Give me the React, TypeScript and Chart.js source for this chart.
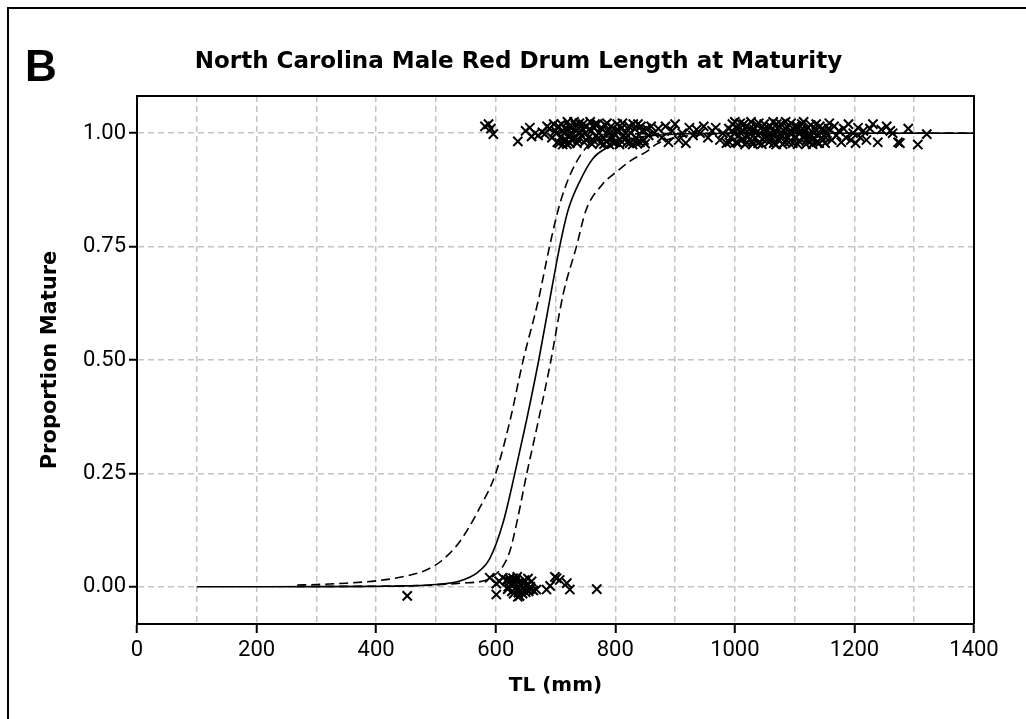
import React, { useEffect, useRef } from "react";
import { Chart, registerables } from "chart.js";

Chart.register(...registerables);

// ---- axis values ----
const xGridValues = [0, 100, 200, 300, 400, 500, 600, 700, 800, 900, 1000, 1100, 1200, 1300, 1400];
const xLabelValues = [0, 200, 400, 600, 800, 1000, 1200, 1400];
const yTickValues = [0, 0.25, 0.5, 0.75, 1.0];

// ---- fitted maturity curve and confidence band (TL mm, proportion) ----
const fitCurve: [number, number][] = [
  [100, 0], [200, 0.0001], [300, 0.0003], [400, 0.001], [450, 0.002], [500, 0.005],
  [540, 0.013], [570, 0.032], [590, 0.062], [612, 0.14], [632, 0.25], [652, 0.37],
  [672, 0.5], [690, 0.63], [707, 0.75], [721, 0.83], [741, 0.895], [763, 0.945],
  [785, 0.967], [810, 0.982], [850, 0.993], [900, 0.998], [1000, 1.0], [1400, 1.0],
];
const upperBand: [number, number][] = [
  [268, 0.004], [300, 0.005], [350, 0.008], [400, 0.013], [440, 0.021], [480, 0.035],
  [510, 0.058], [540, 0.1], [574, 0.176], [600, 0.25], [624, 0.367], [646, 0.5],
  [671, 0.63], [690, 0.75], [707, 0.843], [727, 0.916], [757, 0.976], [790, 0.992],
  [850, 0.999], [1000, 1.0], [1400, 1.0],
];
const lowerBand: [number, number][] = [
  [268, 0.001], [350, 0.001], [450, 0.002], [500, 0.004], [540, 0.008], [585, 0.015],
  [600, 0.028], [612, 0.045], [624, 0.08], [635, 0.14], [652, 0.25], [669, 0.352],
  [691, 0.49], [713, 0.646], [735, 0.75], [751, 0.83], [779, 0.888], [803, 0.916],
  [824, 0.938], [853, 0.96], [869, 0.976], [900, 0.99], [950, 0.997], [1000, 1.0], [1400, 1.0],
];

// ---- observed fish (TL mm, jittered maturity) ----
const matureFish: [number, number][] = [
  [582, 1.015], [588, 1.02], [592, 1.01], [596, 0.998], [637, 0.982], [650, 1.005], [657, 1.012],
  [660, 0.993], [666, 1.0], [671, 0.995], [678, 1.002], [682, 0.998], [686, 1.015], [690, 1.01],
  [694, 0.99], [697, 1.02],
  [700, 1.005], [703, 0.98], [705, 1.015], [708, 0.99], [710, 1.02], [712, 0.975], [714, 1.0],
  [716, 1.01], [718, 0.985], [720, 1.025], [722, 0.995], [724, 0.978], [726, 1.012], [728, 1.0],
  [730, 0.99], [733, 1.018], [735, 1.005], [738, 0.985], [740, 1.022], [743, 0.995], [745, 1.01],
  [748, 0.98], [750, 1.0], [752, 1.015], [755, 0.99], [758, 1.025], [760, 1.005], [763, 0.985],
  [765, 1.012], [768, 0.995], [770, 1.02], [773, 1.0], [775, 0.978], [778, 1.01], [780, 0.99],
  [783, 1.018], [785, 0.982], [788, 1.005], [790, 0.975], [793, 1.015], [796, 0.99], [798, 1.0],
  [800, 0.98], [803, 1.02], [806, 1.005], [808, 0.985], [811, 1.012], [814, 0.995], [817, 1.0],
  [820, 0.98], [823, 1.015], [826, 1.0], [829, 0.975], [832, 1.01], [835, 0.99], [838, 1.02],
  [841, 0.98], [845, 1.005], [848, 0.985], [852, 1.01], [856, 0.995], [860, 1.015], [865, 1.0],
  [702, 1.0], [706, 0.978], [711, 1.005], [715, 0.985], [719, 0.976], [723, 1.015], [727, 0.985],
  [731, 1.025], [736, 0.978], [741, 1.0], [746, 1.02], [751, 0.985], [756, 1.008], [761, 0.976],
  [766, 1.02], [771, 0.988], [776, 1.012], [781, 0.976], [786, 1.022], [791, 1.0], [797, 0.978],
  [802, 1.005], [807, 0.975], [812, 1.022], [818, 0.99], [824, 0.978], [830, 1.02], [836, 0.978],
  [843, 1.015], [850, 0.977],
  [872, 1.01], [878, 0.99], [884, 1.015], [889, 0.98], [895, 1.005], [900, 1.02], [906, 0.985],
  [912, 1.0], [918, 0.978], [924, 1.012], [930, 0.995], [936, 1.008], [942, 1.0], [948, 1.015],
  [955, 0.99], [962, 1.005], [968, 1.012], [975, 0.985], [980, 1.0], [986, 0.978],
  [990, 1.01], [993, 0.99], [996, 1.02], [999, 1.0], [1002, 0.98], [1004, 1.012], [1007, 0.995],
  [1009, 1.022], [1012, 0.985], [1014, 1.005], [1017, 0.975], [1019, 1.015], [1022, 0.992],
  [1024, 1.0], [1027, 1.025], [1029, 0.982], [1032, 1.008], [1034, 0.99], [1037, 1.018],
  [1039, 0.978], [1042, 1.0], [1044, 1.012], [1047, 0.986], [1049, 1.02], [1052, 0.995],
  [1054, 1.005], [1057, 0.98], [1059, 1.015], [1062, 0.99], [1064, 1.025], [1067, 1.0],
  [1069, 0.975], [1072, 1.01], [1074, 0.985], [1077, 1.02], [1079, 0.995], [1082, 1.005],
  [1084, 0.98], [1087, 1.015], [1089, 0.99], [1092, 1.0], [1094, 1.022], [1097, 0.978],
  [1099, 1.008], [1102, 0.992], [1104, 1.015], [1107, 0.983], [1109, 1.0], [1112, 1.02],
  [1114, 0.99], [1117, 1.005], [1119, 0.976], [1122, 1.012], [1124, 0.995], [1127, 1.018],
  [1129, 0.985], [1132, 1.0], [1134, 1.01], [1137, 0.98], [1139, 0.995], [1142, 1.015],
  [1145, 0.99], [1148, 1.005], [1151, 0.978], [1154, 1.0], [1157, 1.01],
  [991, 0.98], [995, 1.005], [1000, 1.025], [1005, 0.978], [1010, 1.0], [1015, 1.02], [1020, 0.98],
  [1025, 1.01], [1030, 0.976], [1035, 1.0], [1040, 1.022], [1045, 0.976], [1050, 1.01],
  [1055, 0.988], [1060, 1.0], [1065, 0.978], [1070, 1.02], [1075, 0.998], [1080, 0.976],
  [1085, 1.025], [1090, 0.98], [1095, 1.0], [1100, 1.015], [1105, 0.976], [1110, 1.005],
  [1115, 1.025], [1120, 0.985], [1125, 1.0], [1130, 0.976], [1136, 1.02], [1141, 0.978],
  [1146, 1.01], [1152, 0.99], [1158, 1.022],
  [1162, 0.985], [1166, 1.015], [1170, 0.995], [1174, 1.005], [1178, 0.98], [1182, 1.01],
  [1186, 0.99], [1190, 1.02], [1194, 0.985], [1198, 1.0], [1202, 0.978], [1206, 1.012],
  [1210, 0.99], [1215, 1.005], [1220, 0.985], [1226, 1.01], [1231, 1.02], [1239, 0.98],
  [1245, 1.008], [1254, 1.015], [1260, 1.005], [1264, 1.0], [1273, 0.98], [1276, 0.978],
  [1290, 1.01], [1306, 0.975], [1321, 0.998],
];
const immatureFish: [number, number][] = [
  [452, -0.02], [590, 0.02], [601, 0.007], [601, -0.017], [606, 0.012], [612, 0.02], [618, 0.015],
  [621, 0.0], [624, 0.012], [627, -0.01], [629, 0.019], [632, 0.008], [635, -0.006], [636, 0.022],
  [638, -0.013], [640, -0.02], [641, 0.005], [643, 0.002], [645, -0.015], [648, 0.015],
  [652, 0.005], [655, -0.01], [657, -0.006], [660, 0.012], [663, -0.008], [668, -0.006],
  [685, -0.006], [691, 0.002], [699, 0.022], [702, 0.019], [707, 0.015], [719, 0.008],
  [724, -0.006], [769, -0.005],
  [620, -0.005], [623, 0.018], [626, 0.003], [630, -0.015], [634, 0.015], [637, -0.022],
  [639, 0.01], [642, -0.008], [646, 0.008], [650, -0.012], [654, 0.018], [658, 0.0],
];

const toPts = (arr: [number, number][]) => arr.map(([x, y]) => ({ x, y }));

const TICK_FONT = { family: "Roboto", size: 22 };
const TITLE_FAMILY = "'DejaVu Sans'";
const GRID_COLOR = "#c4c4c4";

export default function App() {
  const ref = useRef<HTMLCanvasElement | null>(null);

  useEffect(() => {
    if (!ref.current) return;
    const boxPlugin = {
      id: "plotBox",
      afterDatasetsDraw(chart: any) {
        const { ctx, chartArea } = chart;
        const { left, top, right, bottom } = chartArea;
        ctx.save();
        ctx.strokeStyle = "#000";
        ctx.lineWidth = 2;
        ctx.setLineDash([]);
        ctx.beginPath();
        ctx.moveTo(left, top);
        ctx.lineTo(right, top);
        ctx.lineTo(right, bottom);
        ctx.stroke();
        ctx.restore();
      },
    };

    const lineBase = {
      type: "scatter" as const,
      showLine: true,
      pointRadius: 0,
      pointHoverRadius: 0,
      borderColor: "#000",
      borderWidth: 1.6,
      fill: false,
      cubicInterpolationMode: "monotone" as const,
    };
    const markerBase = {
      type: "scatter" as const,
      showLine: false,
      pointStyle: "crossRot" as const,
      pointRadius: 6.5,
      pointBorderColor: "#000",
      pointBackgroundColor: "rgba(0,0,0,0)",
      pointBorderWidth: 2,
    };

    const chart = new Chart(ref.current, {
      type: "scatter",
      data: {
        datasets: [
          { ...lineBase, label: "Lower 95% CI", data: toPts(lowerBand), borderDash: [9, 5] },
          { ...lineBase, label: "Upper 95% CI", data: toPts(upperBand), borderDash: [9, 5] },
          { ...lineBase, label: "Fitted", data: toPts(fitCurve) },
          { ...markerBase, label: "Mature", data: toPts(matureFish) },
          { ...markerBase, label: "Immature", data: toPts(immatureFish) },
        ] as any,
      },
      options: {
        animation: false,
        responsive: false,
        devicePixelRatio: 1,
        events: [],
        layout: { padding: { left: 10, right: 52, top: 96, bottom: 0 } },
        plugins: {
          legend: { display: false },
          tooltip: { enabled: false },
          title: { display: false },
        },
        scales: {
          x: {
            type: "linear",
            min: 0,
            max: 1400,
            afterBuildTicks: (s: any) => {
              s.ticks = xGridValues.map((v) => ({ value: v }));
            },
            afterFit: (s: any) => {
              s.height = 95;
            },
            ticks: {
              autoSkip: false,
              maxRotation: 0,
              padding: 4,
              color: "#000",
              font: TICK_FONT,
              callback: (v: any) => (xLabelValues.includes(Number(v)) ? String(v) : ""),
            },
            grid: {
              color: GRID_COLOR,
              lineWidth: 1.5,
              drawTicks: true,
              tickLength: 9,
              tickWidth: 2,
              tickBorderDash: [],
              tickColor: (ctx: any) =>
                ctx.tick && xLabelValues.includes(ctx.tick.value) ? "#000" : "rgba(0,0,0,0)",
            },
            border: { display: true, color: "#000", width: 2, dash: [6, 4] },
            title: {
              display: true,
              text: "TL (mm)",
              color: "#000",
              font: { family: TITLE_FAMILY, weight: "bold", size: 20 },
              padding: { top: 0, bottom: 21 },
            },
          },
          y: {
            type: "linear",
            min: -0.082,
            max: 1.082,
            afterBuildTicks: (s: any) => {
              s.ticks = yTickValues.map((v) => ({ value: v }));
            },
            afterFit: (s: any) => {
              s.width = 127;
            },
            ticks: {
              padding: 3,
              color: "#000",
              font: TICK_FONT,
              callback: (v: any) => Number(v).toFixed(2),
            },
            grid: {
              color: GRID_COLOR,
              lineWidth: 1.5,
              drawTicks: true,
              tickLength: 8,
              tickWidth: 2,
              tickBorderDash: [],
              tickColor: "#000",
            },
            border: { display: true, color: "#000", width: 2, dash: [6, 4] },
            title: {
              display: true,
              text: "Proportion Mature",
              color: "#000",
              font: { family: TITLE_FAMILY, weight: "bold", size: 21 },
              padding: { top: 28, bottom: 0 },
            },
          },
        },
      } as any,
      plugins: [boxPlugin],
    });
    return () => chart.destroy();
  }, []);

  return (
    <div
      style={{
        position: "fixed",
        left: 0,
        top: 0,
        width: 1026,
        height: 719,
        background: "#fff",
        overflow: "hidden",
      }}
    >
      <canvas
        ref={ref}
        width={1026}
        height={719}
        style={{ position: "absolute", left: 0, top: 0, width: 1026, height: 719, display: "block" }}
      />
      <div
        style={{
          position: "absolute",
          left: 7,
          top: 7,
          width: 1040,
          height: 740,
          borderTop: "2px solid #000",
          borderLeft: "2px solid #000",
          boxSizing: "border-box",
          pointerEvents: "none",
        }}
      />
      <div
        style={{
          position: "absolute",
          left: 25,
          top: 44,
          fontFamily: "'Liberation Sans', Arial, sans-serif",
          fontWeight: "bold",
          fontSize: 44,
          lineHeight: "44px",
          color: "#000",
        }}
      >
        B
      </div>
      <div
        style={{
          position: "absolute",
          left: 0,
          top: 49,
          width: 1037,
          textAlign: "center",
          whiteSpace: "nowrap",
          fontFamily: "'DejaVu Sans', sans-serif",
          fontWeight: "bold",
          fontSize: 23,
          lineHeight: "23px",
          color: "#000",
        }}
      >
        North Carolina Male Red Drum Length at Maturity
      </div>
    </div>
  );
}
